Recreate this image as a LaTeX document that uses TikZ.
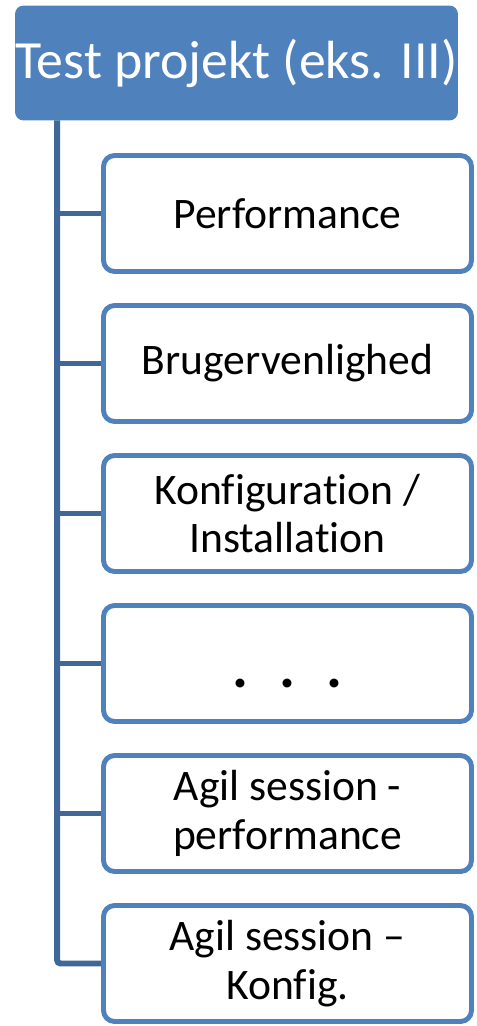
\documentclass[tikz,border=0pt]{standalone}
\usepackage{fontspec}
\setmainfont{Carlito}[Ligatures=CommonOff]
\usepackage{tikz}
\usetikzlibrary{positioning}

\definecolor{boxblue}{HTML}{4F81BD}
\definecolor{linkblue}{HTML}{3F6797}

\tikzset{
  rootbox/.style={rectangle, rounded corners=0.16cm, fill=boxblue, draw=boxblue,
    line width=0.5pt, minimum width=8.82cm, minimum height=2.28cm, inner sep=0pt,
    text=white, font=\fontsize{30.6}{36}\selectfont},
  itembox/.style={rectangle, rounded corners=0.22cm, draw=boxblue, fill=white,
    line width=2.8pt, minimum width=7.36cm, minimum height=2.32cm, inner sep=0pt,
    align=center, font=\fontsize{24.8}{27.8}\selectfont},
  trunk/.style={draw=linkblue, line width=3.4pt}
}

\begin{document}
\begin{tikzpicture}[x=0.02cm, y=-0.02cm]
    	\useasboundingbox (0, 0) rectangle (476, 1026);
    	% Boxes:
    	\node[rootbox](root) at (236.5, 63){Test projekt (eks. III)};
    	\node[itembox](perf) at (287.5, 213.5){Performance};
    	\node[itembox](brug) at (287.5, 363.5){Brugervenlighed};
    	\node[itembox](konf) at (287.5, 513.5){Konfiguration /\\Installation};
    	\node[itembox](dots) at (287.5, 663.5){};
    	\node[anchor=base, font=\fontsize{34}{36}\selectfont\bfseries] at ([yshift=-0.48cm]dots.center){.\hspace{0.52em}.\hspace{0.52em}.};
    	\node[itembox](agilperf) at (287.5, 813.5){Agil session -\\performance};
    	\node[itembox](agilkonf) at (287.5, 963.5){Agil session --\\Konfig.};
    	% Wires:
    	\coordinate (stem) at ([xshift=0.84cm]root.south west);
    	\draw[trunk, rounded corners=2pt] (stem) |- (agilkonf.west);
    	\draw[trunk] (stem |- perf.west) -- (perf.west);
    	\draw[trunk] (stem |- brug.west) -- (brug.west);
    	\draw[trunk] (stem |- konf.west) -- (konf.west);
    	\draw[trunk] (stem |- dots.west) -- (dots.west);
    	\draw[trunk] (stem |- agilperf.west) -- (agilperf.west);
    \end{tikzpicture}
\end{document}
